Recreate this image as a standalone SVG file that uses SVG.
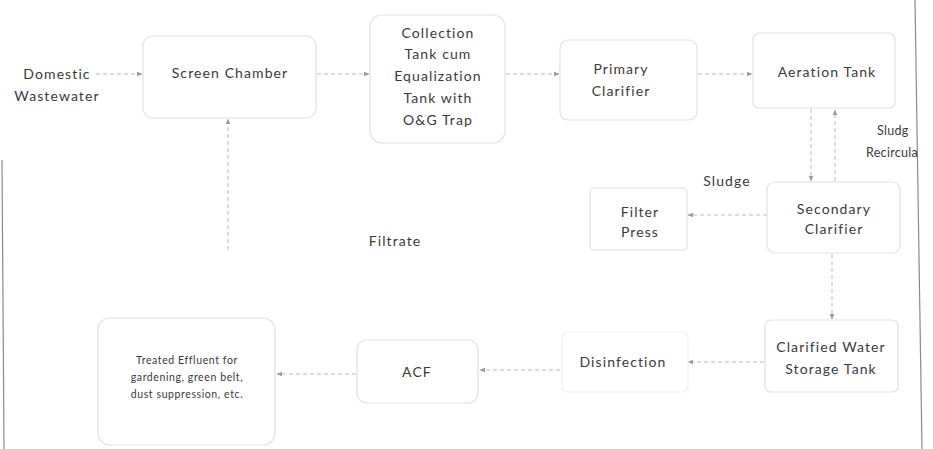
<svg xmlns="http://www.w3.org/2000/svg" width="933" height="449" viewBox="0 0 933 449">
<defs>
<style>
.box{fill:#fff;stroke:#e2e2e2;stroke-width:1.2}
.t{font-family:Lato,"Open Sans",sans-serif;font-size:14px;letter-spacing:1.1px;fill:#3a3a3a;text-anchor:middle}
.s{font-size:10.5px;letter-spacing:0.6px}
.r{font-size:12.5px;letter-spacing:0.3px;text-anchor:start}
.c{stroke:#bdbdbd;stroke-width:1;fill:none;stroke-dasharray:4 3}
.edge{stroke:#8a8a8a;stroke-width:1.2;fill:none}
</style>
<marker id="a" viewBox="0 0 10 10" refX="9" refY="5" markerWidth="6" markerHeight="6" orient="auto-start-reverse">
<path d="M0,1 L10,5 L0,9 z" fill="#9a9a9a"/>
</marker>
</defs>
<rect width="933" height="449" fill="#fff"/>
<line class="edge" x1="2" y1="160" x2="4" y2="449"/>
<line class="edge" x1="915" y1="0" x2="922" y2="449"/>

<g id="connectors">
<line class="c" x1="96" y1="74" x2="142" y2="74" marker-end="url(#a)"/>
<line class="c" x1="317" y1="74" x2="369" y2="74" marker-end="url(#a)"/>
<line class="c" x1="506" y1="74" x2="559" y2="74" marker-end="url(#a)"/>
<line class="c" x1="698" y1="74" x2="752" y2="74" marker-end="url(#a)"/>
<line class="c" x1="811" y1="109" x2="811" y2="181" marker-end="url(#a)"/>
<line class="c" x1="835" y1="181" x2="835" y2="110" marker-end="url(#a)"/>
<line class="c" x1="767" y1="215" x2="688" y2="215" marker-end="url(#a)"/>
<line class="c" x1="228" y1="250" x2="228" y2="119" marker-end="url(#a)"/>
<line class="c" x1="832" y1="254" x2="832" y2="319" marker-end="url(#a)"/>
<line class="c" x1="764" y1="362" x2="688" y2="362" marker-end="url(#a)"/>
<line class="c" x1="560" y1="370" x2="480" y2="370" marker-end="url(#a)"/>
<line class="c" x1="356" y1="374" x2="277" y2="374" marker-end="url(#a)"/>
</g>

<g id="domestic"><text class="t" x="57" y="79">Domestic</text><text class="t" x="57" y="101">Wastewater</text></g>
<g id="screen"><rect class="box" x="143" y="36" width="173" height="82" rx="10"/><text class="t" x="230" y="78">Screen Chamber</text></g>
<g id="collection"><rect class="box" x="370" y="15" width="135" height="128" rx="12"/>
<text class="t" x="438" y="38">Collection</text><text class="t" x="438" y="59">Tank cum</text><text class="t" x="438" y="81">Equalization</text><text class="t" x="438" y="103">Tank with</text><text class="t" x="438" y="125">O&amp;G Trap</text></g>
<g id="primary"><rect class="box" x="560" y="40" width="137" height="80" rx="8"/><text class="t" x="621" y="74">Primary</text><text class="t" x="621" y="96">Clarifier</text></g>
<g id="aeration"><rect class="box" x="753" y="33" width="142" height="75" rx="6"/><text class="t" x="827" y="77">Aeration Tank</text></g>
<g id="sludgerec"><text class="t r" x="877" y="135">Sludg</text><text class="t r" x="866" y="157">Recircula</text></g>
<g id="sludge"><text class="t" x="727" y="186">Sludge</text></g>
<g id="secondary"><rect class="box" x="767" y="182" width="133" height="71" rx="8"/><text class="t" x="834" y="214">Secondary</text><text class="t" x="834" y="234">Clarifier</text></g>
<g id="filter"><rect class="box" x="590" y="188" width="97" height="62" rx="4"/><text class="t" x="640" y="217">Filter</text><text class="t" x="640" y="237">Press</text></g>
<g id="filtrate"><text class="t" x="395" y="246">Filtrate</text></g>
<g id="clarified"><rect class="box" x="765" y="320" width="133" height="72" rx="6"/><text class="t" x="831" y="352">Clarified Water</text><text class="t" x="831" y="374">Storage Tank</text></g>
<g id="disinfection"><rect class="box" x="562" y="332" width="126" height="60" rx="6" style="stroke:#f0f0f0"/><text class="t" x="623" y="367">Disinfection</text></g>
<g id="acf"><rect class="box" x="357" y="340" width="121" height="63" rx="10"/><text class="t" x="417" y="377">ACF</text></g>
<g id="treated"><rect class="box" x="98" y="318" width="177" height="127" rx="12"/>
<text class="t s" x="187" y="364">Treated Effluent for</text><text class="t s" x="187" y="381">gardening, green belt,</text><text class="t s" x="187" y="398">dust suppression, etc.</text></g>
</svg>
